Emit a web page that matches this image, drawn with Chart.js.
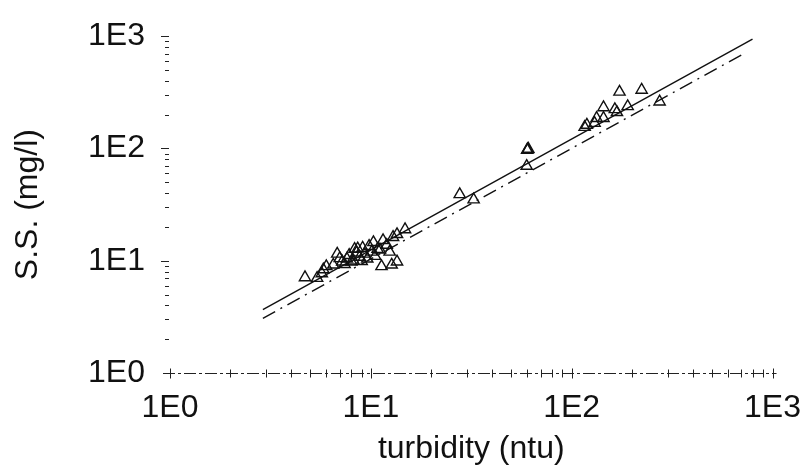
<!DOCTYPE html>
<html><head><meta charset="utf-8">
<script src="https://cdn.jsdelivr.net/npm/chart.js@4"></script>
<style>html,body{margin:0;padding:0;background:#fff}#wrap{width:809px;height:469px}</style>
</head><body><div id="wrap"><canvas id="c" width="809" height="469"></canvas></div>
<script>
// ---- data ----
const turbidity = [173,223,144,164,168,190,133,144,130,116,119,274,
  60.4,60.8,60.0,59.7,27.7,32.5,
  4.7,5.4,5.7,6.0,6.8,5.8,6.5,7.2,7.6,8.0,8.3,8.8,9.1,9.6,10.1,10.3,10.8,11.1,11.5,12.0,12.4,12.9,13.5,14.8,11.3,12.7,13.5,
  7.0,7.8,8.5,9.3,8.2,9.0,7.4,8.6,10.5,9.8];
const suspendedSolids = [319,332,232,223,210,237,186,186,168,155,162,261,
  98,99,97,69.7,39,35,
  7.1,7.0,7.7,8.9,11.5,8.35,9.2,9.8,10.4,9.8,12.7,10.8,13.0,10.4,12.0,14.6,12.7,12.5,15.2,13.8,12.0,16.2,17.2,19.0,8.9,9.2,9.8,
  10.5,11.2,11.8,11.5,10.0,9.9,9.3,12.8,11.0,13.5];
const fitSolidX = [2.9, 795];
const fitSolidY = [3.67, 942];
const fitDashDotX = [2.9, 700];
const fitDashDotY = [3.07, 680];
const axisExponents = [0, 1, 2, 3];
const tickMultipliers = [1,2,3,4,5,6,7,8,9];

// ---- helpers ----
const pts = (xs, ys) => xs.map((v, i) => ({x: v, y: ys[i]}));
const tickValues = [];
axisExponents.forEach(e => {
  tickMultipliers.forEach(m => {
    if (e < axisExponents[axisExponents.length-1] || m === 1) tickValues.push(m * Math.pow(10, e));
  });
});
const isMajor = v => axisExponents.some(e => Math.abs(v - Math.pow(10, e)) < 1e-9);
const labelFor = v => {
  const e = axisExponents.find(e => Math.abs(v - Math.pow(10, e)) < 1e-9);
  return e === undefined ? '' : '1E' + e;
};
const FONT = "'Liberation Sans', Arial, Helvetica, sans-serif";
const INK = '#111';

const axisMarks = {
  id: 'axisMarks',
  beforeDatasetsDraw(chart) {
    const {ctx, scales: {x, y}, chartArea: a} = chart;
    ctx.save();
    ctx.strokeStyle = '#222';
    ctx.lineWidth = 1;
    const by = Math.round(a.bottom) + 0.5;
    ctx.setLineDash([12, 3, 3, 3]);
    ctx.beginPath(); ctx.moveTo(a.left - 7, by); ctx.lineTo(a.right + 4, by); ctx.stroke();
    ctx.setLineDash([]);
    x.ticks.forEach(t => {
      const px = Math.round(x.getPixelForValue(t.value)) + 0.5;
      const h = isMajor(t.value) ? 5 : 4;
      ctx.beginPath(); ctx.moveTo(px, by - h); ctx.lineTo(px, by + h); ctx.stroke();
    });
    y.ticks.forEach(t => {
      if (t.value === 1) return;
      const py = Math.round(y.getPixelForValue(t.value)) + 0.5;
      const w = isMajor(t.value) ? 8 : 4;
      ctx.beginPath(); ctx.moveTo(a.left - 1 - w, py); ctx.lineTo(a.left - 1, py); ctx.stroke();
    });
    ctx.restore();
  }
};

const setTicks = scale => { scale.ticks = tickValues.map(v => ({value: v})); };

new Chart(document.getElementById('c'), {
  type: 'scatter',
  data: {
    datasets: [
      {
        data: pts(turbidity, suspendedSolids),
        pointStyle: 'triangle',
        pointRadius: 6.5,
        borderWidth: 1.4,
        borderColor: INK,
        backgroundColor: 'rgba(0,0,0,0)'
      },
      {
        data: pts(fitSolidX, fitSolidY),
        showLine: true,
        pointRadius: 0,
        borderColor: INK,
        borderWidth: 1.4
      },
      {
        data: pts(fitDashDotX, fitDashDotY),
        showLine: true,
        pointRadius: 0,
        borderColor: INK,
        borderWidth: 1.4,
        borderDash: [14, 6, 2, 6]
      }
    ]
  },
  options: {
    responsive: false,
    animation: false,
    devicePixelRatio: 1,
    layout: {padding: {top: 24, right: 36, left: 0, bottom: 0}},
    plugins: {legend: {display: false}, tooltip: {enabled: false}},
    scales: {
      x: {
        type: 'logarithmic', min: 1, max: 1000, position: 'bottom',
        afterBuildTicks: setTicks,
        afterFit: s => { s.height = 96; },
        grid: {display: false},
        border: {display: false},
        ticks: {
          autoSkip: false, maxRotation: 0, padding: 8, color: INK,
          font: {family: FONT, size: 32},
          callback: v => labelFor(v)
        },
        title: {display: true, text: 'turbidity (ntu)', color: INK,
          font: {family: FONT, size: 32}, padding: {top: 0, bottom: 1}}
      },
      y: {
        type: 'logarithmic', min: 1, max: 1000, position: 'left',
        afterBuildTicks: setTicks,
        afterFit: s => { s.width = 170; },
        grid: {display: false},
        border: {display: false},
        ticks: {
          autoSkip: false, padding: 17, color: INK,
          font: {family: FONT, size: 32},
          callback: v => labelFor(v)
        },
        title: {display: true, text: 'S.S. (mg/l)', color: INK,
          font: {family: FONT, size: 32}, padding: {top: 9, bottom: 0}}
      }
    }
  },
  plugins: [axisMarks]
});
</script>
</body></html>
